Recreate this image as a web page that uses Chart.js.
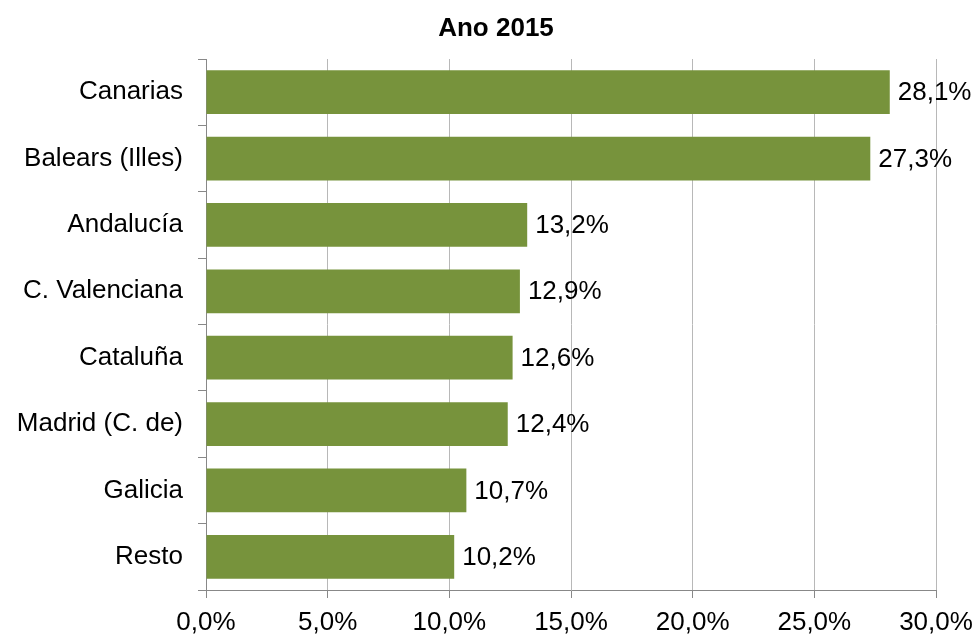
<!DOCTYPE html>
<html>
<head>
<meta charset="utf-8">
<script src="https://cdn.jsdelivr.net/npm/chart.js@4/dist/chart.umd.min.js"></script>
<style>
  html, body { margin: 0; padding: 0; background: #fff; }
  #wrap { width: 976px; height: 635px; }
</style>
</head>
<body>
<div id="wrap"><canvas id="chart" width="976" height="635"></canvas></div>
<script>
// datos
const regions = [
  "Canarias",
  "Balears (Illes)",
  "Andalucía",
  "C. Valenciana",
  "Cataluña",
  "Madrid (C. de)",
  "Galicia",
  "Resto",
];
const shares2015 = [28.1, 27.3, 13.2, 12.9, 12.6, 12.4, 10.7, 10.2];
const xTicks = [0, 5, 10, 15, 20, 25, 30];
const chartTitle = "Ano 2015";

const FONT = "'Liberation Sans', Arial, sans-serif";
const fmt = (v) => v.toFixed(1).replace(".", ",") + "%";

// etiquetas al final de cada barra + título centrado en el lienzo
const valueLabels = {
  id: "valueLabels",
  afterDatasetsDraw(chart) {
    const ctx = chart.ctx;
    const meta = chart.getDatasetMeta(0);
    ctx.save();
    ctx.font = "26px " + FONT;
    ctx.fillStyle = "#000";
    ctx.textAlign = "left";
    ctx.textBaseline = "middle";
    meta.data.forEach((bar, i) => {
      ctx.fillText(fmt(shares2015[i]), bar.x + 8, bar.y + 1);
    });

    ctx.font = "bold 26px " + FONT;
    ctx.textAlign = "center";
    ctx.fillText(chartTitle, 496, 29);
    ctx.restore();
  },
};

new Chart(document.getElementById("chart"), {
  type: "bar",
  data: {
    labels: regions,
    datasets: [
      {
        data: shares2015,
        backgroundColor: "#77933C",
        borderWidth: 0,
        barPercentage: 0.66,
        categoryPercentage: 1,
      },
    ],
  },
  options: {
    indexAxis: "y",
    responsive: false,
    animation: false,
    layout: { padding: { left: 0, right: 40, top: 59, bottom: 0 } },
    plugins: {
      legend: { display: false },
      tooltip: { enabled: false },
      title: { display: false },
    },
    scales: {
      x: {
        min: 0,
        max: 30,
        afterBuildTicks(scale) {
          scale.ticks = xTicks.map((v) => ({ value: v }));
        },
        afterFit(scale) {
          scale.height = 45;
          scale.paddingLeft = 0;
          scale.paddingRight = 0;
        },
        ticks: {
          color: "#000",
          font: { family: FONT, size: 26 },
          padding: 9,
          maxRotation: 0,
          callback: (v) => fmt(v),
        },
        grid: {
          color: "#b8b8b8",
          lineWidth: 1,
          tickLength: 8,
          tickColor: "#888",
        },
        border: { color: "#888", width: 1 },
      },
      y: {
        afterFit(scale) {
          scale.width = 206;
        },
        ticks: {
          color: "#000",
          font: { family: FONT, size: 26 },
          padding: 15,
        },
        grid: {
          drawOnChartArea: false,
          tickLength: 8,
          tickColor: "#888",
          offset: true,
        },
        border: { color: "#888", width: 1 },
      },
    },
  },
  plugins: [valueLabels],
});
</script>
</body>
</html>
